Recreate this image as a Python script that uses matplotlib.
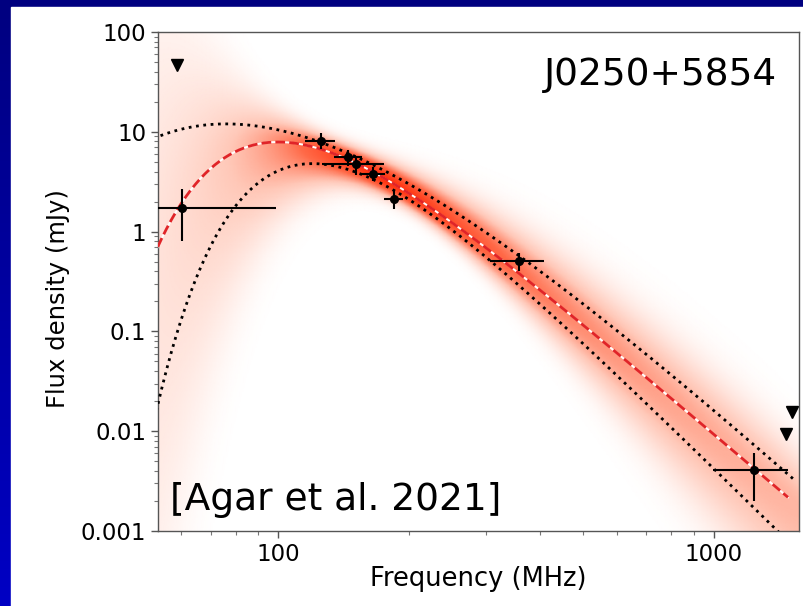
import numpy as np
import matplotlib
matplotlib.use("Agg")
import matplotlib.pyplot as plt
from matplotlib.colors import LinearSegmentedColormap
from matplotlib.patches import Rectangle
from matplotlib.ticker import FixedLocator, FixedFormatter, NullFormatter

# --- measured flux densities (MHz, mJy) ---
freq = [60.1, 125.3, 144.9, 150.6, 164.9, 184.5, 357.0, 1237.0]
freq_err = [39.0, 10.0, 10.6, 24.5, 11.0, 9.4, 51.0, 242.0]
flux = [1.73, 8.1, 5.53, 4.75, 3.78, 2.14, 0.513, 0.0041]
flux_err_lo = [0.93, 1.4, 0.96, 1.03, 0.59, 0.44, 0.113, 0.0021]
flux_err_hi = [0.94, 1.6, 1.07, 0.71, 0.65, 0.45, 0.099, 0.0020]

# --- upper limits (MHz, mJy) ---
lim_freq = [58.6, 1510.0, 1462.0]
lim_flux = [46.8, 0.0155, 0.0093]

# --- low-frequency turnover fits: (peak freq, peak flux, alpha, beta) ---
fit_best = (100.0, 7.9, -3.73, 2.0)
fit_upper = (76.0, 12.0, -4.0, 1.0)
fit_lower = (120.0, 4.8, -4.3, 2.04)

xticks_major = [100, 1000]
xtick_labels = ["100", "1000"]
yticks_major = [1e-3, 1e-2, 1e-1, 1, 10, 100]
ytick_labels = ["0.001", "0.01", "0.1", "1", "10", "100"]


def turnover(nu, nu_p, s_p, alpha, beta):
    x = nu / nu_p
    return s_p * x ** alpha * np.exp(alpha / beta * (x ** (-beta) - 1.0))


W, H = 804, 606
fig = plt.figure(figsize=(W / 100, H / 100), dpi=100)

# slide background: blue gradient frame with a white panel
bg = fig.add_axes([0, 0, 1, 1], zorder=-10)
bg.set_axis_off()
grad = np.linspace(0, 1, 256).reshape(-1, 1)
blue = LinearSegmentedColormap.from_list("slide", ["#000080", "#0000c4"])
bg.imshow(grad, aspect="auto", cmap=blue, extent=[0, 1, 0, 1], origin="upper")
bg.add_patch(Rectangle((11 / W, 0), 1 - 11 / W, 1 - 7 / H, color="white", zorder=2))
bg.set_xlim(0, 1)
bg.set_ylim(0, 1)

left, right, top, bottom = 158, 799, 32, 531
ax = fig.add_axes([left / W, 1 - bottom / H, (right - left) / W, (bottom - top) / H])
ax.set_xscale("log")
ax.set_yscale("log")
ax.set_xlim(53, 1570)
ax.set_ylim(1e-3, 100)

# probability shading around the best fit
nu_grid = np.logspace(np.log10(50), np.log10(1600), 500)
s_grid = np.logspace(-3.2, 2.2, 450)
c = np.log10(turnover(nu_grid, *fit_best))
su = np.log10(turnover(nu_grid, *fit_upper)) - c
sd = c - np.log10(turnover(nu_grid, *fit_lower))
su = np.clip(su, 0.04, None) * 1.25
sd = np.clip(sd, 0.04, None) * 1.25
ly = np.log10(s_grid)[:, None]
dz = ly - c[None, :]
z = np.where(dz > 0, dz / su[None, :], dz / sd[None, :])
dens = np.exp(-0.5 * z ** 2) / (0.5 * (su + sd))[None, :]
val = (dens / dens.max()) ** 0.6
shade = LinearSegmentedColormap.from_list("shade", ["#ffffff", "#ffc8b8", "#ff6a48", "#ff3410"])
ax.pcolormesh(nu_grid, s_grid, val, cmap=shade, vmin=0, vmax=1, shading="gouraud",
              rasterized=True, zorder=0)

nu_fit = np.logspace(np.log10(50), np.log10(1520), 400)
nu_best = nu_fit[nu_fit < 1490]
ax.plot(nu_fit, turnover(nu_fit, *fit_upper), ls=":", color="black", lw=2, zorder=3)
ax.plot(nu_fit, turnover(nu_fit, *fit_lower), ls=":", color="black", lw=2, zorder=3)
ax.plot(nu_best, turnover(nu_best, *fit_best), color="white", lw=1.4, zorder=3)
ax.plot(nu_best, turnover(nu_best, *fit_best), color="#e02428", lw=2, dashes=(3.5, 1.5), zorder=4)

ax.errorbar(freq, flux, xerr=freq_err, yerr=[flux_err_lo, flux_err_hi], fmt="o", color="black",
            ms=5.5, elinewidth=1.5, capsize=0, zorder=5)
ax.plot(lim_freq, lim_flux, "v", color="black", ms=9, zorder=5)

ax.xaxis.set_major_locator(FixedLocator(xticks_major))
ax.xaxis.set_major_formatter(FixedFormatter(xtick_labels))
ax.xaxis.set_minor_formatter(NullFormatter())
ax.yaxis.set_major_locator(FixedLocator(yticks_major))
ax.yaxis.set_major_formatter(FixedFormatter(ytick_labels))
ax.yaxis.set_minor_formatter(NullFormatter())
ax.tick_params(which="major", length=5, width=1, colors="#555555", labelcolor="black", labelsize=16.5)
ax.tick_params(which="minor", length=3, width=0.8, colors="#777777")
for sp in ax.spines.values():
    sp.set_color("#555555")
    sp.set_linewidth(1)

ax.set_xlabel("Frequency (MHz)", fontsize=18.5)
ax.set_ylabel("Flux density (mJy)", fontsize=17.5)
ax.xaxis.set_label_coords(0.4995, -0.096)
ax.yaxis.set_label_coords(-0.156, 0.465)
ax.xaxis.label.set_va("center")
ax.yaxis.label.set_va("center")

ax.text(0.966, 0.914, "J0250+5854", transform=ax.transAxes, ha="right", va="center", fontsize=27)
ax.text(0.019, 0.062, "[Agar et al. 2021]", transform=ax.transAxes, ha="left", va="center", fontsize=27)

fig.savefig("out.png", dpi=100)
